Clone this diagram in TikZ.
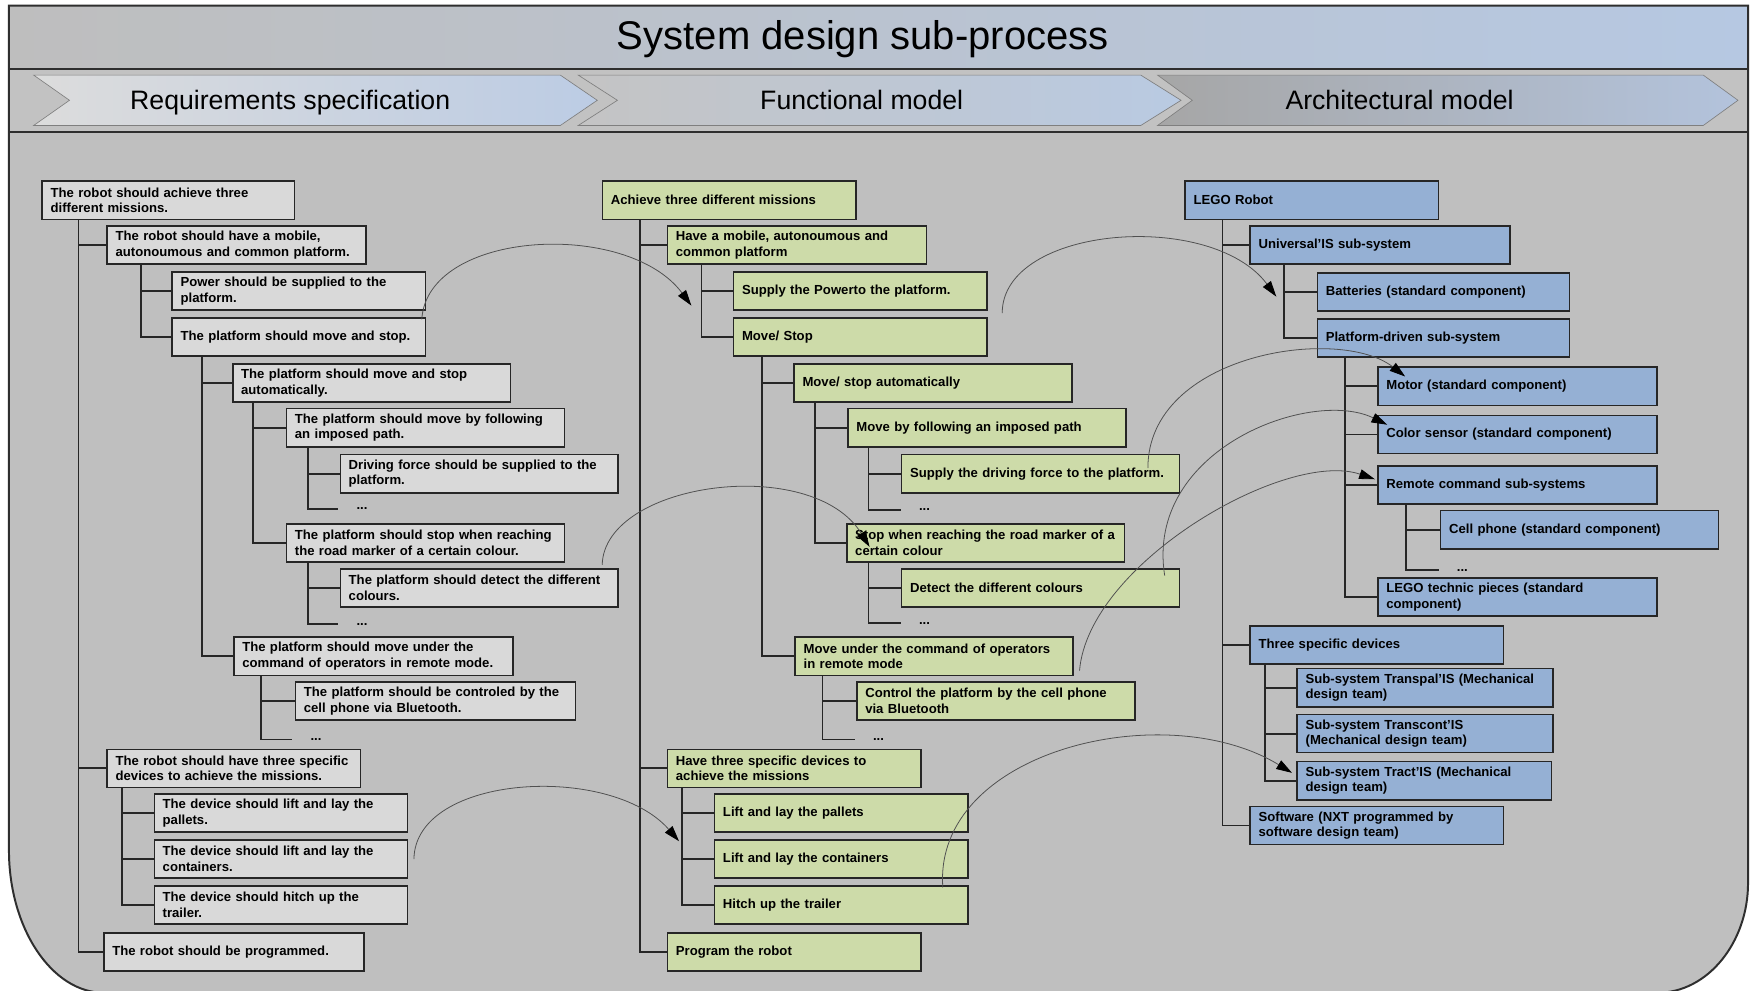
\documentclass[tikz,border=0pt]{standalone}
\usepackage{fontspec}
\setmainfont{Liberation Sans}
\usetikzlibrary{arrows.meta, calc}
\definecolor{framebg}{HTML}{BFBFBF}
\definecolor{frameline}{HTML}{2E2E2E}
\definecolor{titleleft}{HTML}{BEBEBE}
\definecolor{titleright}{HTML}{B6C8E2}
\definecolor{stagebg}{HTML}{C2C2C2}
\definecolor{chevline}{HTML}{7F7F7F}
\definecolor{chevAl}{HTML}{DCDCDC}
\definecolor{chevAr}{HTML}{BCCCE4}
\definecolor{chevBl}{HTML}{C4C4C4}
\definecolor{chevBr}{HTML}{B9CAE2}
\definecolor{chevCl}{HTML}{A6A6A6}
\definecolor{chevCr}{HTML}{B3C3DC}
\definecolor{reqfill}{HTML}{D9D9D9}
\definecolor{funfill}{HTML}{CDDBA9}
\definecolor{archfill}{HTML}{95B0D4}
\definecolor{boxline}{HTML}{262626}
\definecolor{linkgrey}{HTML}{505050}
\newcommand\boxtxt{\fontsize{10}{12}\selectfont\bfseries}
\newcommand\titletxt{\fontsize{30.5}{36}\selectfont}
\newcommand\stagetxt{\fontsize{20.3}{24}\selectfont}

\begin{document}
\begin{tikzpicture}[
    x=0.03cm, y=-0.03cm,
    every node/.style={font=\boxtxt, text=black},
    bw/.code={\pgfmathsetmacro\bwtext{(#1-15)*0.03}\edef\bwtmp{\noexpand\pgfkeysalso{text width=\bwtext cm}}\bwtmp},
    box/.style={draw=boxline, line width=1.2pt, anchor=north west, minimum height=1.02cm, inner xsep=0.225cm, inner ysep=0pt, align=left},
    req/.style={box, fill=reqfill},
    fun/.style={box, fill=funfill},
    arch/.style={box, fill=archfill},
    ellip/.style={anchor=west, inner xsep=13.6pt, inner ysep=1pt},
    branch/.style={draw=boxline, line width=1.4pt},
    link/.style={draw=linkgrey, line width=0.6pt, -{Triangle[length=12pt, width=7.5pt, color=black]}},
    chev/.style={draw=chevline, line width=0.5pt},
    frame/.style={draw=frameline, line width=1.5pt}
]
\useasboundingbox (0,0) rectangle (1568,884);

% frame and bands
\fill[framebg] (8,5) -- (1560,5) -- (1560,788) .. controls (1560,841) and (1524,886) .. (1479,886) -- (93,886) .. controls (46,886) and (8,828) .. (8,759) -- cycle;
\shade[left color=titleleft, right color=titleright] (8,5) rectangle (1560,62);
\fill[stagebg] (8,62) rectangle (1560,118);
\draw[frame] (8,62) -- (1560,62);
\draw[frame] (8,118) -- (1560,118);
\draw[frame] (8,5) -- (1560,5) -- (1560,788) .. controls (1560,841) and (1524,886) .. (1479,886) -- (93,886) .. controls (46,886) and (8,828) .. (8,759) -- cycle;

% stages
\shadedraw[chev, left color=chevAl, right color=chevAr] (30,67) -- (500,67) -- (533,89.5) -- (500,112) -- (30,112) -- (62,89.5) -- cycle;
\shadedraw[chev, left color=chevBl, right color=chevBr] (516,67) -- (1018,67) -- (1054,89.5) -- (1018,112) -- (516,112) -- (551,89.5) -- cycle;
\shadedraw[chev, left color=chevCl, right color=chevCr] (1033,67) -- (1520,67) -- (1551,89.5) -- (1520,112) -- (1033,112) -- (1064,89.5) -- cycle;

\node[font=\titletxt, anchor=base] (title) at (770,44) {System design sub-process};
\node[font=\stagetxt, anchor=base] (streq) at (259,97.5) {Requirements specification};
\node[font=\stagetxt, anchor=base] (stfun) at (769,97.5) {Functional model};
\node[font=\stagetxt, anchor=base] (starch) at (1249,97.5) {Architectural model};

% requirements
\node[req, bw=225] (r1) at (37,161) {The robot should achieve three\\different missions.};
\node[req, bw=231] (r2) at (95,201) {The robot should have a mobile,\\autonoumous and common platform.};
\node[req, bw=226] (r3) at (153,242) {Power should be supplied to the\\platform.};
\node[req, bw=226] (r4) at (153,283) {The platform should move and stop.};
\node[req, bw=248] (r5) at (207,324) {The platform should move and stop\\automatically.};
\node[req, bw=248] (r6) at (255,364) {The platform should move by following\\an imposed path.};
\node[req, bw=248] (r7) at (303,405) {Driving force should be supplied to the\\platform.};
\node[ellip] (r7d) at (302,454) {...};
\node[req, bw=248] (r8) at (255,467) {The platform should stop when reaching\\the road marker of a certain colour.};
\node[req, bw=248] (r9) at (303,507) {The platform should detect the different\\colours.};
\node[ellip] (r9d) at (302,557) {...};
\node[req, bw=249] (r10) at (208,568) {The platform should move under the\\command of operators in remote mode.};
\node[req, bw=250] (r11) at (263,608) {The platform should be controled by the\\cell phone via Bluetooth.};
\node[ellip] (r11d) at (261,660) {...};
\node[req, bw=226] (r12) at (95,668) {The robot should have three specific\\devices to achieve the missions.};
\node[req, bw=226] (r13) at (137,708) {The device should lift and lay the\\pallets.};
\node[req, bw=226] (r14) at (137,749) {The device should lift and lay the\\containers.};
\node[req, bw=226] (r15) at (137,790) {The device should hitch up the\\trailer.};
\node[req, bw=232] (r16) at (92,832) {The robot should be programmed.};

\draw[branch] (r1.south west) ++(33,0) |- (r2.west);
\draw[branch] (r1.south west) ++(33,0) |- (r12.west);
\draw[branch] (r1.south west) ++(33,0) |- (r16.west);
\draw[branch] (r2.south west) ++(31,0) |- (r3.west);
\draw[branch] (r2.south west) ++(31,0) |- (r4.west);
\draw[branch] (r4.south west) ++(27,0) |- (r5.west);
\draw[branch] (r4.south west) ++(27,0) |- (r10.west);
\draw[branch] (r5.south west) ++(19,0) |- (r6.west);
\draw[branch] (r5.south west) ++(19,0) |- (r8.west);
\draw[branch] (r6.south west) ++(20,0) |- (r7.west);
\draw[branch] (r6.south west) ++(20,0) |- (r7d.west);
\draw[branch] (r8.south west) ++(20,0) |- (r9.west);
\draw[branch] (r8.south west) ++(20,0) |- (r9d.west);
\draw[branch] (r10.south west) ++(25,0) |- (r11.west);
\draw[branch] (r10.south west) ++(25,0) |- (r11d.west);
\draw[branch] (r12.south west) ++(14,0) |- (r13.west);
\draw[branch] (r12.south west) ++(14,0) |- (r14.west);
\draw[branch] (r12.south west) ++(14,0) |- (r15.west);

% functional model
\node[fun, bw=226] (f1) at (537,161) {Achieve three different missions};
\node[fun, bw=231] (f2) at (595,201) {Have a mobile, autonoumous and\\common platform};
\node[fun, bw=226] (f3) at (654,242) {Supply the Powerto the platform.};
\node[fun, bw=226] (f4) at (654,283) {Move/ Stop};
\node[fun, bw=248] (f5) at (708,324) {Move/ stop automatically};
\node[fun, bw=248] (f6) at (756,364) {Move by following an imposed path};
\node[fun, bw=248] (f7) at (804,405) {Supply the driving force to the platform.};
\node[ellip] (f7d) at (804,455) {...};
\node[fun, bw=248] (f8) at (755,467) {Stop when reaching the road marker of a\\certain colour};
\node[fun, bw=248] (f9) at (804,507) {Detect the different colours};
\node[ellip] (f9d) at (804,556) {...};
\node[fun, bw=248] (f10) at (709,568) {Move under the command of operators\\in remote mode};
\node[fun, bw=248] (f11) at (764,608) {Control the platform by the cell phone\\via Bluetooth};
\node[ellip] (f11d) at (763,660) {...};
\node[fun, bw=226] (f12) at (595,668) {Have three specific devices to\\achieve the missions};
\node[fun, bw=226] (f13) at (637,708) {Lift and lay the pallets};
\node[fun, bw=226] (f14) at (637,749) {Lift and lay the containers};
\node[fun, bw=226] (f15) at (637,790) {Hitch up the trailer};
\node[fun, bw=226] (f16) at (595,832) {Program the robot};

\draw[branch] (f1.south west) ++(34,0) |- (f2.west);
\draw[branch] (f1.south west) ++(34,0) |- (f12.west);
\draw[branch] (f1.south west) ++(34,0) |- (f16.west);
\draw[branch] (f2.south west) ++(31,0) |- (f3.west);
\draw[branch] (f2.south west) ++(31,0) |- (f4.west);
\draw[branch] (f4.south west) ++(26,0) |- (f5.west);
\draw[branch] (f4.south west) ++(26,0) |- (f10.west);
\draw[branch] (f5.south west) ++(19,0) |- (f6.west);
\draw[branch] (f5.south west) ++(19,0) |- (f8.west);
\draw[branch] (f6.south west) ++(19,0) |- (f7.west);
\draw[branch] (f6.south west) ++(19,0) |- (f7d.west);
\draw[branch] (f8.south west) ++(20,0) |- (f9.west);
\draw[branch] (f8.south west) ++(20,0) |- (f9d.west);
\draw[branch] (f10.south west) ++(25,0) |- (f11.west);
\draw[branch] (f10.south west) ++(25,0) |- (f11d.west);
\draw[branch] (f12.south west) ++(14,0) |- (f13.west);
\draw[branch] (f12.south west) ++(14,0) |- (f14.west);
\draw[branch] (f12.south west) ++(14,0) |- (f15.west);

% architectural model
\node[arch, bw=226] (a1) at (1057,161) {LEGO Robot};
\node[arch, bw=232] (a2) at (1115,201) {Universal’IS sub-system};
\node[arch, bw=225] (a3) at (1175,243) {Batteries (standard component)};
\node[arch, bw=225] (a4) at (1175,284) {Platform-driven sub-system};
\node[arch, bw=249] (a5) at (1229,327) {Motor (standard component)};
\node[arch, bw=249] (a6) at (1229,370) {Color sensor (standard component)};
\node[arch, bw=249] (a7) at (1229,415) {Remote command sub-systems};
\node[arch, bw=248] (a8) at (1285,455) {Cell phone (standard component)};
\node[ellip] (a8d) at (1284,509) {...};
\node[arch, bw=249] (a9) at (1229,515) {LEGO technic pieces (standard\\component)};
\node[arch, bw=226] (a10) at (1115,558) {Three specific devices};
\node[arch, bw=228] (a11) at (1157,596) {Sub-system Transpal’IS (Mechanical\\design team)};
\node[arch, bw=228] (a12) at (1157,637) {Sub-system Transcont’IS\\(Mechanical design team)};
\node[arch, bw=227] (a13) at (1157,679) {Sub-system Tract’IS (Mechanical\\design team)};
\node[arch, bw=226] (a14) at (1115,719) {Software (NXT programmed by\\software design team)};

\draw[branch] (a1.south west) ++(34,0) |- (a2.west);
\draw[branch] (a1.south west) ++(34,0) |- (a10.west);
\draw[branch] (a1.south west) ++(34,0) |- (a14.west);
\draw[branch] (a2.south west) ++(31,0) |- (a3.west);
\draw[branch] (a2.south west) ++(31,0) |- (a4.west);
\draw[branch] (a4.south west) ++(25,0) |- (a5.west);
\draw[branch] (a4.south west) ++(25,0) |- (a6.west);
\draw[branch] (a4.south west) ++(25,0) |- (a7.west);
\draw[branch] (a4.south west) ++(25,0) |- (a9.west);
\draw[branch] (a7.south west) ++(26,0) |- (a8.west);
\draw[branch] (a7.south west) ++(26,0) |- (a8d.west);
\draw[branch] (a10.south west) ++(14,0) |- (a11.west);
\draw[branch] (a10.south west) ++(14,0) |- (a12.west);
\draw[branch] (a10.south west) ++(14,0) |- (a13.west);

% traces between the models
\draw[link] ($(r4.north east)+(-4,2)$) .. controls +(5,-80) and +(-57,-77) .. ($(f3.west)+(-37,13)$);
\draw[link] ($(r9.north east)+(-15,-3)$) .. controls +(2,-74) and +(-51,-83) .. ($(f8.north west)+(21,21)$);
\draw[link] ($(r14.east)+(5,0)$) .. controls +(1,-76) and +(-61,-70) .. ($(f14.west)+(-31,-16)$);
\draw[link] ($(f3.south east)+(13,2)$) .. controls +(0,-78) and +(-58,-78) .. ($(a3.west)+(-36,4)$);
\draw[link] ($(f7.east)+(-29,-5)$) .. controls +(0,-102) and +(-59,-46) .. ($(a5.north west)+(25,9)$);
\draw[link] ($(f9.east)+(-14,-11)$) .. controls +(-18,-113) and +(-68,-33) .. ($(a6.north west)+(9,9)$);
\draw[link] ($(f10.south east)+(5,-5)$) .. controls +(8,-96) and +(-79,-27) .. ($(a7.west)+(-2,-5)$);
\draw[link] ($(f15.north east)+(-23,2)$) .. controls +(-9,-122) and +(-113,-69) .. ($(a13.west)+(-4,-7)$);

\end{tikzpicture}
\end{document}
